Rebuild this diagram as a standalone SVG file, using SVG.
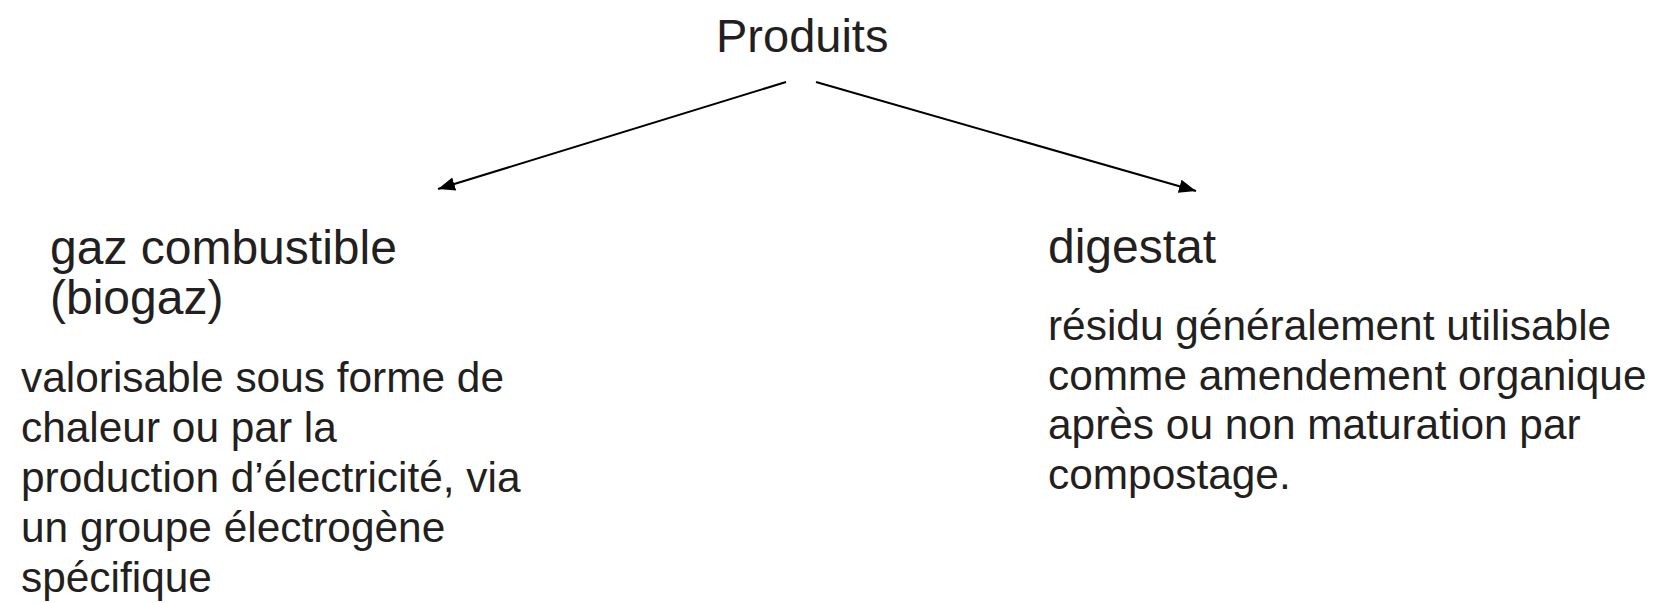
<svg xmlns="http://www.w3.org/2000/svg" width="1655" height="603" viewBox="0 0 1655 603">
<style>
text{font-family:"Liberation Sans",Arial,sans-serif;fill:#231f20}
.h{font-size:47px}
.t{font-size:48px}
.b{font-size:42.4px}
.c{stroke:#000;stroke-width:2;fill:none}
</style>
<defs>
<marker id="ah" viewBox="0 0 10 10" refX="10" refY="5" markerWidth="17" markerHeight="17" markerUnits="userSpaceOnUse" orient="auto"><path d="M0,1L10,5L0,9z" fill="#000"/></marker>
</defs>
<rect width="1655" height="603" fill="#fff"/>
<g id="produits"><text class="h" x="716" y="52">Produits</text></g>
<g id="connectors">
<line class="c" x1="786" y1="82" x2="438" y2="189" marker-end="url(#ah)"/>
<line class="c" x1="816" y1="82" x2="1196" y2="191" marker-end="url(#ah)"/>
</g>
<g id="gaz">
<text class="t" x="50" y="264">gaz combustible</text>
<text class="t" x="50" y="314">(biogaz)</text>
<text class="b" x="21" y="392"><tspan x="21">valorisable sous forme de</tspan><tspan x="21" dy="50">chaleur ou par la</tspan><tspan x="21" dy="50">production d’électricité, via</tspan><tspan x="21" dy="50">un groupe électrogène</tspan><tspan x="21" dy="50">spécifique</tspan></text>
</g>
<g id="digestat">
<text class="t" x="1048" y="263">digestat</text>
<text class="b" x="1048" y="340"><tspan x="1048">résidu généralement utilisable</tspan><tspan x="1048" dy="49.5">comme amendement organique</tspan><tspan x="1048" dy="49.5">après ou non maturation par</tspan><tspan x="1048" dy="49.5">compostage.</tspan></text>
</g>
</svg>
